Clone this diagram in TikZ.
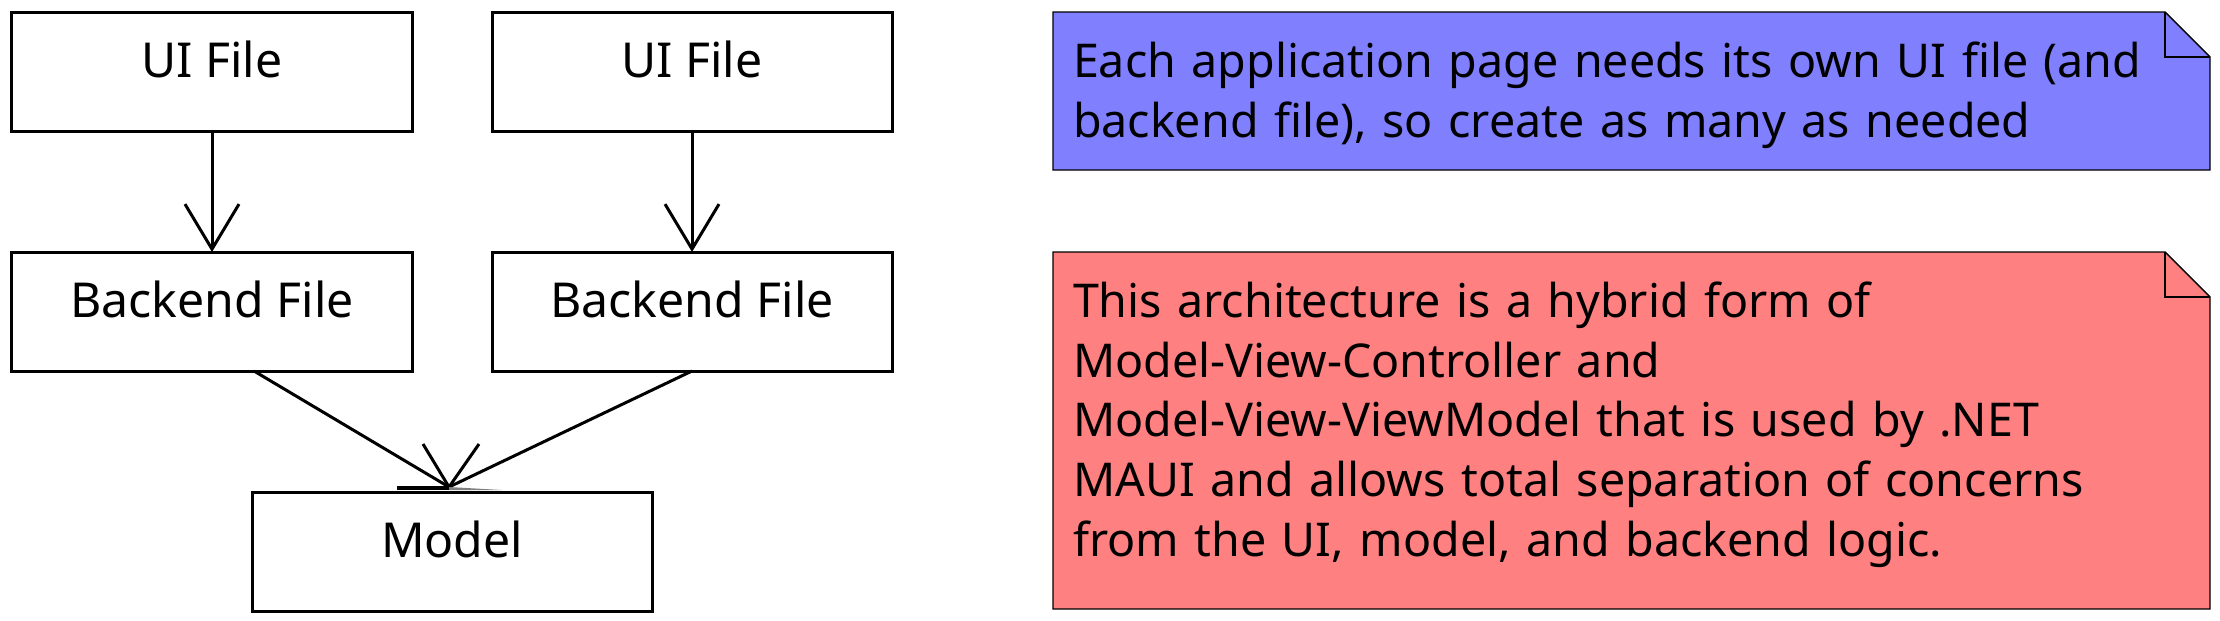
\documentclass[tikz,border=0pt]{standalone}
\usepackage{fontspec}
\setmainfont{Noto Sans}
\usepackage{tikz}
\usetikzlibrary{arrows.meta, positioning, calc}
\pgfdeclarelayer{background}
\pgfsetlayers{background,main}
\definecolor{noteblue}{RGB}{128,128,255}
\definecolor{notered}{RGB}{255,128,128}

\begin{document}
\begin{tikzpicture}[font=\fontsize{13.25}{17.07}\selectfont, line width=0.03cm,
    >={Straight Barb[length=0.45cm, width=0.54cm]},
    box/.style={draw, rectangle, outer sep=0pt, minimum width=4cm, inner xsep=0.2cm,
      inner ysep=0.25cm, text height=0.40cm, text depth=0.29cm,
      font=\fontsize{13.7}{17.07}\selectfont},
    note/.style={anchor=north west, outer sep=0pt, inner sep=0.2cm, text width=11.17cm,
      align=left, text height=0.45cm}]
  \useasboundingbox (0,0) rectangle (22.2,-6.2);
  % files (left)
  \node[box] (ui1) at (2.12,-0.715) {UI File};
  \node[box, right=0.8cm of ui1] (ui2) {UI File};
  \node[box, below=1.21cm of ui1] (be1) {Backend File};
  \node[box, below=1.21cm of ui2] (be2) {Backend File};
  \coordinate (mid) at ($(be1.south)!0.5!(be2.south)$);
  \node[box, below=1.21cm of mid] (model) {Model};
  \draw[->] (ui1) -- (be1);
  \draw[->] (ui2) -- (be2);
  % both backends into the model
  \coordinate (mtip) at ($(model.north)+(-0.03,0.05)$);
  \draw ($(be1.south)+(0.42,0)$) -- (mtip);
  \draw (be2.south) -- (mtip);
  \draw ($(mtip)+(-0.26,0.43)$) -- (mtip) -- ($(mtip)+(0.30,0.43)$);
  \fill ($(model.north)+(-0.55,0.065)$) rectangle ($(model.north)+(-0.03,0.02)$);
  \fill[gray] ($(model.north)+(-0.03,0.05)$) -- ($(model.north)+(0.50,0.02)$) -- ($(model.north)+(-0.03,0.02)$) -- cycle;
  % notes (right)
  \node[note, text depth=0.73cm] (blue) at (10.53,-0.12)
    {Each application page needs its own UI file (and\\backend file), so create as many as needed};
  \node[note, text depth=2.72cm] (red) at (10.53,-2.52)
    {This architecture is a hybrid form of\\Model-View-Controller and\\Model-View-ViewModel that is used by .NET\\MAUI and allows total separation of concerns\\from the UI, model, and backend logic.};
  \foreach \n/\c in {blue/noteblue, red/notered} {
    \begin{pgfonlayer}{background}
      \draw[fill=\c] (\n.north west) -- ($(\n.north east)+(-0.45,0)$) -- ($(\n.north east)+(0,-0.45)$)
        -- (\n.south east) -- (\n.south west) -- cycle;
    \end{pgfonlayer}
    \draw ($(\n.north east)+(-0.45,0)$) |- ($(\n.north east)+(0,-0.45)$);
  }
\end{tikzpicture}
\end{document}
